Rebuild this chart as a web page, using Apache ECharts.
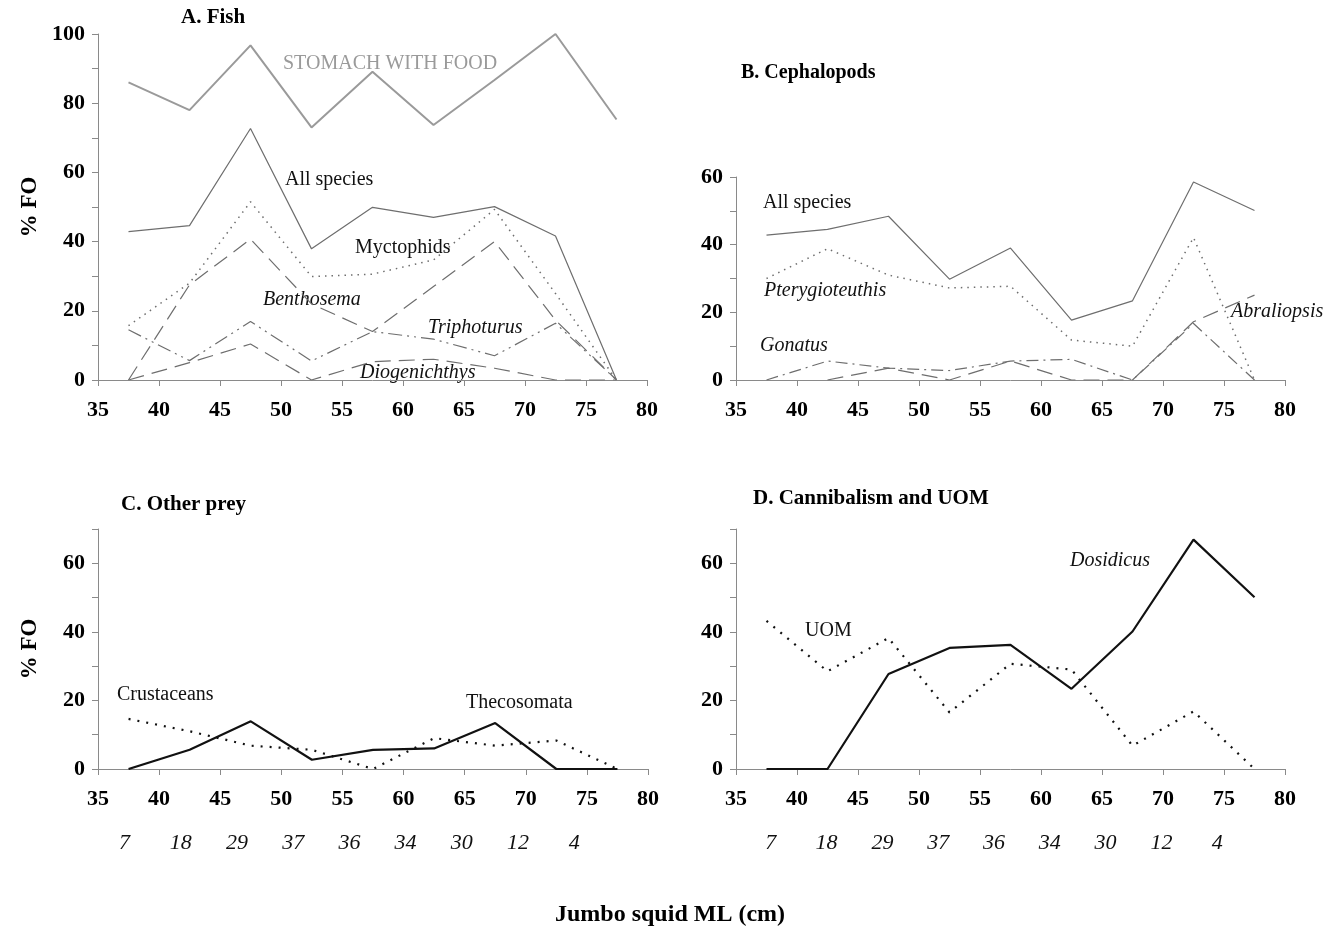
<!DOCTYPE html>
<html>
<head>
<meta charset="utf-8">
<title>Jumbo squid diet by mantle length</title>
<script src="https://cdn.jsdelivr.net/npm/echarts@6/dist/echarts.min.js"></script>
<style>
  html, body { margin: 0; padding: 0; background: #fff; }
  #chart { width: 1341px; height: 932px; }
</style>
</head>
<body>
<div id="chart"></div>
<script>
// mantle length class midpoints (cm)
const mlMid = [37.5, 42.5, 47.5, 52.5, 57.5, 62.5, 67.5, 72.5, 77.5];
const xTicks = [35, 40, 45, 50, 55, 60, 65, 70, 75, 80];
const sampleN = [7, 18, 29, 37, 36, 34, 30, 12, 4];

// A. Fish
const stomachFood = [86.0, 78.0, 96.7, 73.0, 89.1, 73.7, 86.7, 100, 75.3];
const fishAll = [42.9, 44.6, 72.7, 37.9, 49.9, 47.0, 50.1, 41.6, 0];
const myctophids = [15.7, 28, 51.5, 29.9, 30.6, 34.7, 49.3, 25, 0];
const benthosema = [0, 27.5, 40.7, 22, 14, 27, 40, 17.3, 0];
const triphoturus = [14.5, 5.6, 16.9, 5.5, 14, 11.8, 7.0, 16.4, 0];
const diogenichthys = [0, 5, 10.4, 0, 5.3, 6.0, 3.4, 0, 0];

// B. Cephalopods
const cephAll = [42.8, 44.5, 48.4, 29.8, 39.0, 17.7, 23.4, 58.5, 50.1];
const pterygioteuthis = [30, 38.8, 31, 27.2, 27.7, 11.8, 10.0, 42.1, 0];
const gonatus = [0, 5.6, 3.5, 2.8, 5.6, 6.1, 0, 16.7, 0];
const abraliopsis = [null, 0, 3.5, 0, 5.6, 0, 0, 17.2, 25.1];

// C. Other prey
const crustaceans = [14.6, 11, 6.8, 5.6, 0, 9.0, 6.8, 8.3, 0];
const thecosomata = [0, 5.6, 13.9, 2.7, 5.6, 6.0, 13.4, 0, 0];

// D. Cannibalism and UOM
const dosidicus = [0, 0, 27.7, 35.3, 36.2, 23.4, 40.1, 66.9, 50.1];
const uom = [43.2, 28.5, 38.2, 16.5, 30.7, 29.0, 6.8, 16.8, 0];

const serif = '"Liberation Serif", "DejaVu Serif", serif';
const axisGray = '#8a8a8a';

function pairs(vals) {
    return mlMid.map((x, i) => [x, vals[i]]);
}

function xAxisFor(grid) {
    return {
        type: 'value', gridIndex: grid, min: xTicks[0], max: xTicks[xTicks.length - 1], interval: 5,
        axisLine: { lineStyle: { color: axisGray, width: 1 } },
        axisTick: { length: 6, lineStyle: { color: axisGray } },
        axisLabel: { color: '#000', fontFamily: serif, fontWeight: 'bold', fontSize: 22, margin: 19 },
        splitLine: { show: false }
    };
}

function yAxisFor(grid, max, name) {
    return {
        type: 'value', gridIndex: grid, min: 0, max: max, interval: 10,
        name: name || '', nameLocation: 'middle', nameGap: 56,
        nameTextStyle: { color: '#000', fontFamily: serif, fontWeight: 'bold', fontSize: 23 },
        axisLine: { show: true, lineStyle: { color: axisGray, width: 1 } },
        axisTick: { show: true, length: 6, lineStyle: { color: axisGray } },
        axisLabel: {
            color: '#000', fontFamily: serif, fontWeight: 'bold', fontSize: 22, margin: 13,
            formatter: v => (v % 20 === 0 ? String(v) : '')
        },
        splitLine: { show: false }
    };
}

function line(grid, vals, color, width, type, name) {
    return {
        name: name, type: 'line', xAxisIndex: grid, yAxisIndex: grid,
        data: pairs(vals), showSymbol: false, symbol: 'none', connectNulls: false,
        lineStyle: { color: color, width: width, type: type, cap: 'butt' },
        silent: true, animation: false
    };
}

const gray = '#6e6e6e';
const longDash = [16, 8];
const dotted = [1.5, 5];
const dashDotDot = [14, 5, 2, 5, 2, 5];
const dashDot = [12, 5, 2, 5];

function txt(x, y, s, opts) {
    return {
        type: 'text', x: x, y: y,
        style: Object.assign({
            text: s, fill: '#111', fontFamily: serif, fontSize: 20,
            textVerticalAlign: 'middle', verticalAlign: 'middle'
        }, opts || {})
    };
}

const graphics = [
    // panel titles
    txt(181, 18, 'A. Fish', { fontWeight: 'bold', fontSize: 21, fill: '#000' }),
    txt(741, 73, 'B. Cephalopods', { fontWeight: 'bold', fontSize: 20, fill: '#000' }),
    txt(121, 505, 'C. Other prey', { fontWeight: 'bold', fontSize: 21, fill: '#000' }),
    txt(753, 499, 'D. Cannibalism and UOM', { fontWeight: 'bold', fontSize: 21, fill: '#000' }),
    // series labels
    txt(283, 64, 'STOMACH WITH FOOD', { fill: '#9a9a9a', fontSize: 20 }),
    txt(285, 180, 'All species'),
    txt(355, 248, 'Myctophids'),
    txt(263, 300, 'Benthosema', { fontStyle: 'italic' }),
    txt(428, 328, 'Triphoturus', { fontStyle: 'italic' }),
    txt(360, 373, 'Diogenichthys', { fontStyle: 'italic' }),
    txt(763, 203, 'All species'),
    txt(764, 291, 'Pterygioteuthis', { fontStyle: 'italic' }),
    txt(760, 346, 'Gonatus', { fontStyle: 'italic' }),
    txt(1231, 312, 'Abraliopsis', { fontStyle: 'italic' }),
    txt(117, 695, 'Crustaceans'),
    txt(466, 703, 'Thecosomata'),
    txt(805, 631, 'UOM'),
    txt(1070, 561, 'Dosidicus', { fontStyle: 'italic' }),
    // x axis title
    txt(670, 915, 'Jumbo squid ML (cm)', { fontWeight: 'bold', fontSize: 24, fill: '#000', align: 'center', textAlign: 'center' })
];

// sample sizes under panels C and D
sampleN.forEach((n, i) => {
    graphics.push(txt(124.6 + i * 56.2, 843, String(n), { fontStyle: 'italic', fontSize: 22, align: 'center', textAlign: 'center' }));
    graphics.push(txt(770.8 + i * 55.8, 843, String(n), { fontStyle: 'italic', fontSize: 22, align: 'center', textAlign: 'center' }));
});

const chart = echarts.init(document.getElementById('chart'));
chart.setOption({
    backgroundColor: '#fff',
    animation: false,
    grid: [
        { left: 98, top: 34, width: 549, height: 346 },
        { left: 736, top: 177, width: 549, height: 203 },
        { left: 98, top: 529, width: 550, height: 240 },
        { left: 736, top: 529, width: 549, height: 240 }
    ],
    xAxis: [xAxisFor(0), xAxisFor(1), xAxisFor(2), xAxisFor(3)],
    yAxis: [yAxisFor(0, 100, '% FO'), yAxisFor(1, 60), yAxisFor(2, 70, '% FO'), yAxisFor(3, 70)],
    series: [
        line(0, stomachFood, '#9a9a9a', 2, 'solid', 'Stomach with food'),
        line(0, fishAll, gray, 1.2, 'solid', 'All species'),
        line(0, myctophids, gray, 1.5, dotted, 'Myctophids'),
        line(0, benthosema, gray, 1.2, longDash, 'Benthosema'),
        line(0, triphoturus, gray, 1.2, dashDotDot, 'Triphoturus'),
        line(0, diogenichthys, gray, 1.2, longDash, 'Diogenichthys'),

        line(1, cephAll, gray, 1.2, 'solid', 'All species'),
        line(1, pterygioteuthis, gray, 1.5, dotted, 'Pterygioteuthis'),
        line(1, gonatus, gray, 1.2, dashDot, 'Gonatus'),
        line(1, abraliopsis, gray, 1.2, longDash, 'Abraliopsis'),

        line(2, crustaceans, '#111', 2.2, [2, 7], 'Crustaceans'),
        line(2, thecosomata, '#111', 2.2, 'solid', 'Thecosomata'),

        line(3, uom, '#111', 2.2, [2, 7], 'UOM'),
        line(3, dosidicus, '#111', 2.2, 'solid', 'Dosidicus')
    ],
    graphic: graphics
});
window.addEventListener('resize', function() {
    chart.resize()
})
</script>
</body>
</html>
